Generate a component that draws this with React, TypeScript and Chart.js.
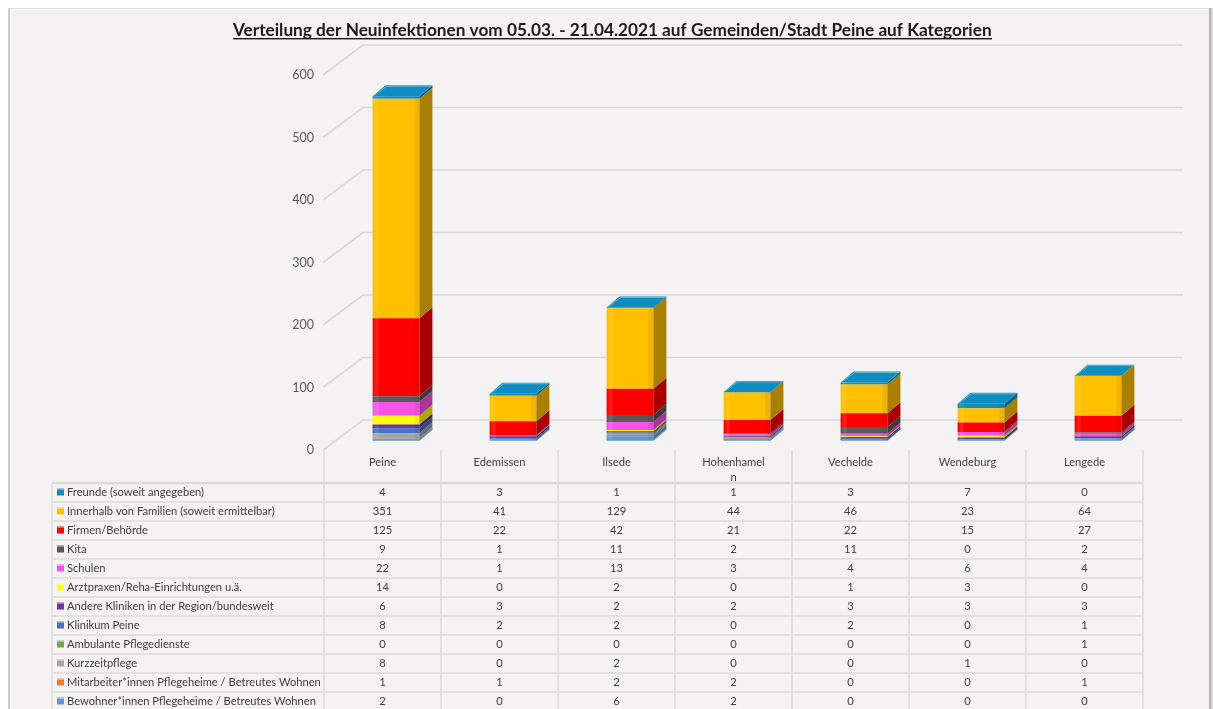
import React, { useEffect, useRef } from 'react';
import { Chart, registerables } from 'chart.js';

Chart.register(...registerables);

const title = 'Verteilung der Neuinfektionen vom 05.03. - 21.04.2021 auf Gemeinden/Stadt Peine auf Kategorien';
const categories: (string | string[])[] = ['Peine', 'Edemissen', 'Ilsede', ['Hohenhamel', 'n'], 'Vechelde', 'Wendeburg', 'Lengede'];
const yMax = 600;
const yStep = 100;

// Series, in table order (top row first = top of the stack)
const seriesNames = [
  'Freunde (soweit angegeben)',
  'Innerhalb von Familien (soweit ermittelbar)',
  'Firmen/Behörde',
  'Kita',
  'Schulen',
  'Arztpraxen/Reha-Einrichtungen u.ä.',
  'Andere Kliniken in der Region/bundesweit',
  'Klinikum Peine',
  'Ambulante Pflegedienste',
  'Kurzzeitpflege',
  'Mitarbeiter*innen Pflegeheime / Betreutes Wohnen',
  'Bewohner*innen Pflegeheime / Betreutes Wohnen',
];
const freunde = [4, 3, 1, 1, 3, 7, 0];
const familien = [351, 41, 129, 44, 46, 23, 64];
const firmen = [125, 22, 42, 21, 22, 15, 27];
const kita = [9, 1, 11, 2, 11, 0, 2];
const schulen = [22, 1, 13, 3, 4, 6, 4];
const arztpraxen = [14, 0, 2, 0, 1, 3, 0];
const andereKliniken = [6, 3, 2, 2, 3, 3, 3];
const klinikumPeine = [8, 2, 2, 0, 2, 0, 1];
const ambulante = [0, 0, 0, 0, 0, 0, 1];
const kurzzeitpflege = [8, 0, 2, 0, 0, 1, 0];
const mitarbeiter = [1, 1, 2, 2, 0, 0, 1];
const bewohner = [2, 0, 6, 2, 0, 0, 0];
const seriesValues = [freunde, familien, firmen, kita, schulen, arztpraxen, andereKliniken, klinikumPeine, ambulante, kurzzeitpflege, mitarbeiter, bewohner];
const seriesColors = ['#0d8dc0', '#ffc000', '#ff0000', '#595959', '#f853e6', '#ffff00', '#7030a0', '#4472c4', '#70ad47', '#a5a5a5', '#ed7d31', '#5b9bd5'];

const FONT = 'Lato, "Open Sans", "DejaVu Sans", sans-serif';
const DEPTH_X = 13;
const DEPTH_Y = -11;
const LABEL_OFFSET = 10;

function shade(hex: string, f: number) {
  const n = parseInt(hex.slice(1), 16);
  const r = Math.round(((n >> 16) & 255) * f);
  const g = Math.round(((n >> 8) & 255) * f);
  const b = Math.round((n & 255) * f);
  return `rgb(${r},${g},${b})`;
}

function fitFont(ctx: CanvasRenderingContext2D, text: string, width: number, weight: string) {
  ctx.font = `${weight} 20px ${FONT}`;
  const w = ctx.measureText(text).width;
  return (20 * width) / w;
}

const decorPlugin = {
  id: 'decor',
  beforeDraw(chart: any) {
    const { ctx, chartArea, scales } = chart;
    const W = chart.width;
    const H = chart.height;
    ctx.save();
    ctx.fillStyle = '#ffffff';
    ctx.fillRect(0, 0, W, H);
    // frame
    ctx.fillStyle = '#f4f2f3';
    ctx.fillRect(8, 8, W - 8 - 3, H - 8);
    ctx.fillStyle = '#dcdcdc';
    ctx.fillRect(8, 8, W - 11, 1);
    ctx.fillStyle = '#cfcfcf';
    ctx.fillRect(8, 8, 2, H - 8);
    ctx.fillStyle = '#fbfbfb';
    ctx.fillRect(10, 9, 2, H - 9);
    ctx.fillRect(10, 9, W - 14, 1);
    ctx.fillStyle = '#b5b5b5';
    ctx.fillRect(W - 4, 8, 2, H - 8);
    ctx.fillStyle = '#d8d8d8';
    ctx.fillRect(W - 2, 8, 2, H - 8);

    // title
    const size = fitFont(ctx, title, 759, 'bold');
    ctx.font = `bold ${size}px ${FONT}`;
    ctx.fillStyle = '#1a1a1a';
    ctx.textAlign = 'left';
    ctx.textBaseline = 'alphabetic';
    ctx.fillText(title, 233, 36);
    ctx.fillRect(233, 38, 759, 1.4);

    // 3D walls: side diagonal lines + back wall grid lines
    const y = scales.y;
    const sideX = chartArea.left - 14.5;
    const backL = chartArea.left + 25.5;
    const backR = chartArea.right + 26.5;
    ctx.lineWidth = 1.6;
    ctx.strokeStyle = '#dad9da';
    for (let v = 0; v <= yMax; v += yStep) {
      const py = y.getPixelForValue(v);
      const front = py + LABEL_OFFSET;
      const back = py - 20;
      ctx.beginPath();
      ctx.moveTo(sideX, front);
      ctx.lineTo(backL, back);
      ctx.lineTo(backR, back);
      ctx.stroke();
    }
    ctx.restore();
  },
  afterDatasetsDraw(chart: any) {
    const { ctx } = chart;
    const n = chart.data.datasets.length;
    ctx.save();
    for (let d = 0; d < n; d++) {
      const meta = chart.getDatasetMeta(d);
      const color = chart.data.datasets[d].backgroundColor as string;
      meta.data.forEach((el: any) => {
        const { x, y, base, width } = el.getProps(['x', 'y', 'base', 'width'], true);
        const r = x + width / 2;
        const l = x - width / 2;
        if (base - y > 0.01) {
          ctx.fillStyle = shade(color, 0.66);
          ctx.beginPath();
          ctx.moveTo(r, y);
          ctx.lineTo(r + DEPTH_X, y + DEPTH_Y);
          ctx.lineTo(r + DEPTH_X, base + DEPTH_Y);
          ctx.lineTo(r, base);
          ctx.closePath();
          ctx.fill();
          // highlight stripe on front
          ctx.fillStyle = 'rgba(255,255,255,0.10)';
          ctx.fillRect(l + 2, y, 4, base - y);
          ctx.fillStyle = 'rgba(0,0,0,0.06)';
          ctx.fillRect(r - 5, y, 5, base - y);
        }
        if (d === 0) {
          // bottom edge of stack
          ctx.strokeStyle = color;
          ctx.lineWidth = 1.5;
          ctx.beginPath();
          ctx.moveTo(l, base);
          ctx.lineTo(r, base);
          ctx.lineTo(r + DEPTH_X, base + DEPTH_Y);
          ctx.stroke();
        }
        if (d === n - 1) {
          // top cap
          ctx.fillStyle = color;
          ctx.beginPath();
          ctx.moveTo(l, y);
          ctx.lineTo(l + DEPTH_X, y + DEPTH_Y);
          ctx.lineTo(r + DEPTH_X, y + DEPTH_Y);
          ctx.lineTo(r, y);
          ctx.closePath();
          ctx.fill();
          ctx.strokeStyle = 'rgba(255,255,255,0.35)';
          ctx.lineWidth = 1;
          ctx.beginPath();
          ctx.moveTo(l + 2, y - 1);
          ctx.lineTo(l + DEPTH_X + 1, y + DEPTH_Y + 1);
          ctx.lineTo(r + DEPTH_X - 1, y + DEPTH_Y + 1);
          ctx.stroke();
        }
      });
    }
    ctx.restore();
  },
  afterDraw(chart: any) {
    const { ctx, scales, chartArea } = chart;
    const x = scales.x;
    const colW = (chartArea.right - chartArea.left) / categories.length;
    const shift = DEPTH_X + 0.5;
    const colCenter = (i: number) => x.getPixelForValue(i) - shift;
    const legendRight = colCenter(0) - colW / 2;
    const tableLeft = 52;
    const tableRight = colCenter(categories.length - 1) + colW / 2;
    const headTop = chartArea.bottom + LABEL_OFFSET;
    const headBottom = 483;
    const rowH = 19;
    const bottom = chart.height;

    ctx.save();
    // grid lines
    ctx.strokeStyle = '#dcdbdc';
    ctx.lineWidth = 1.5;
    for (let k = 0; k <= categories.length; k++) {
      const xx = legendRight + k * colW;
      ctx.beginPath();
      ctx.moveTo(xx, headTop);
      ctx.lineTo(xx, bottom);
      ctx.stroke();
    }
    ctx.beginPath();
    ctx.moveTo(tableLeft, headBottom);
    ctx.lineTo(tableLeft, bottom);
    ctx.stroke();
    for (let r = 0; r <= seriesNames.length; r++) {
      const yy = headBottom + r * rowH;
      ctx.lineWidth = r === 0 ? 2.5 : 1.5;
      ctx.beginPath();
      ctx.moveTo(tableLeft, yy);
      ctx.lineTo(tableRight, yy);
      ctx.stroke();
    }

    // header labels
    const tsize = fitFont(ctx, 'Mitarbeiter*innen Pflegeheime / Betreutes Wohnen', 254, 'normal');
    ctx.font = `normal ${tsize}px ${FONT}`;
    ctx.fillStyle = '#404040';
    ctx.textAlign = 'center';
    ctx.textBaseline = 'middle';
    categories.forEach((c, i) => {
      const lines = Array.isArray(c) ? c : [c];
      lines.forEach((ln, j) => ctx.fillText(ln, colCenter(i), 462 + j * 15));
    });

    // rows
    seriesNames.forEach((name, r) => {
      const cy = headBottom + r * rowH + rowH / 2;
      ctx.fillStyle = seriesColors[r];
      ctx.fillRect(57, cy - 4, 7, 7);
      ctx.fillStyle = 'rgba(255,255,255,0.35)';
      ctx.fillRect(57, cy - 4, 7, 1.5);
      ctx.fillStyle = '#404040';
      ctx.textAlign = 'left';
      ctx.fillText(name, 67, cy);
      ctx.textAlign = 'center';
      seriesValues[r].forEach((v, i) => ctx.fillText(String(v), colCenter(i), cy));
    });
    ctx.restore();
  },
};

export default function App() {
  const ref = useRef<HTMLCanvasElement>(null);
  useEffect(() => {
    if (!ref.current) return;
    const datasets = seriesNames
      .map((name, i) => ({
        label: name,
        data: seriesValues[i],
        backgroundColor: seriesColors[i],
        borderWidth: 0,
        barPercentage: 0.4,
        categoryPercentage: 1,
      }))
      .reverse();
    const chart = new Chart(ref.current, {
      type: 'bar',
      data: { labels: categories as any, datasets },
      options: {
        animation: false,
        responsive: false,
        layout: { padding: { left: 0, right: 56.5, top: 65, bottom: 269 } },
        plugins: { legend: { display: false }, tooltip: { enabled: false }, title: { display: false } },
        scales: {
          x: { stacked: true, display: false },
          y: {
            stacked: true,
            min: 0,
            max: yMax,
            ticks: { stepSize: yStep, padding: 23.5, labelOffset: LABEL_OFFSET, color: '#595959', font: { family: FONT, size: 12.5 } },
            grid: { display: false, drawTicks: false },
            border: { display: false },
            afterFit: (s: any) => { s.width = 337.5; },
          },
        },
      },
      plugins: [decorPlugin],
    });
    return () => chart.destroy();
  }, []);
  return (
    <div style={{ position: 'fixed', left: 0, top: 0, width: 1213, height: 709 }}>
      <canvas ref={ref} width={1213} height={709} style={{ width: 1213, height: 709, display: 'block' }} />
    </div>
  );
}
